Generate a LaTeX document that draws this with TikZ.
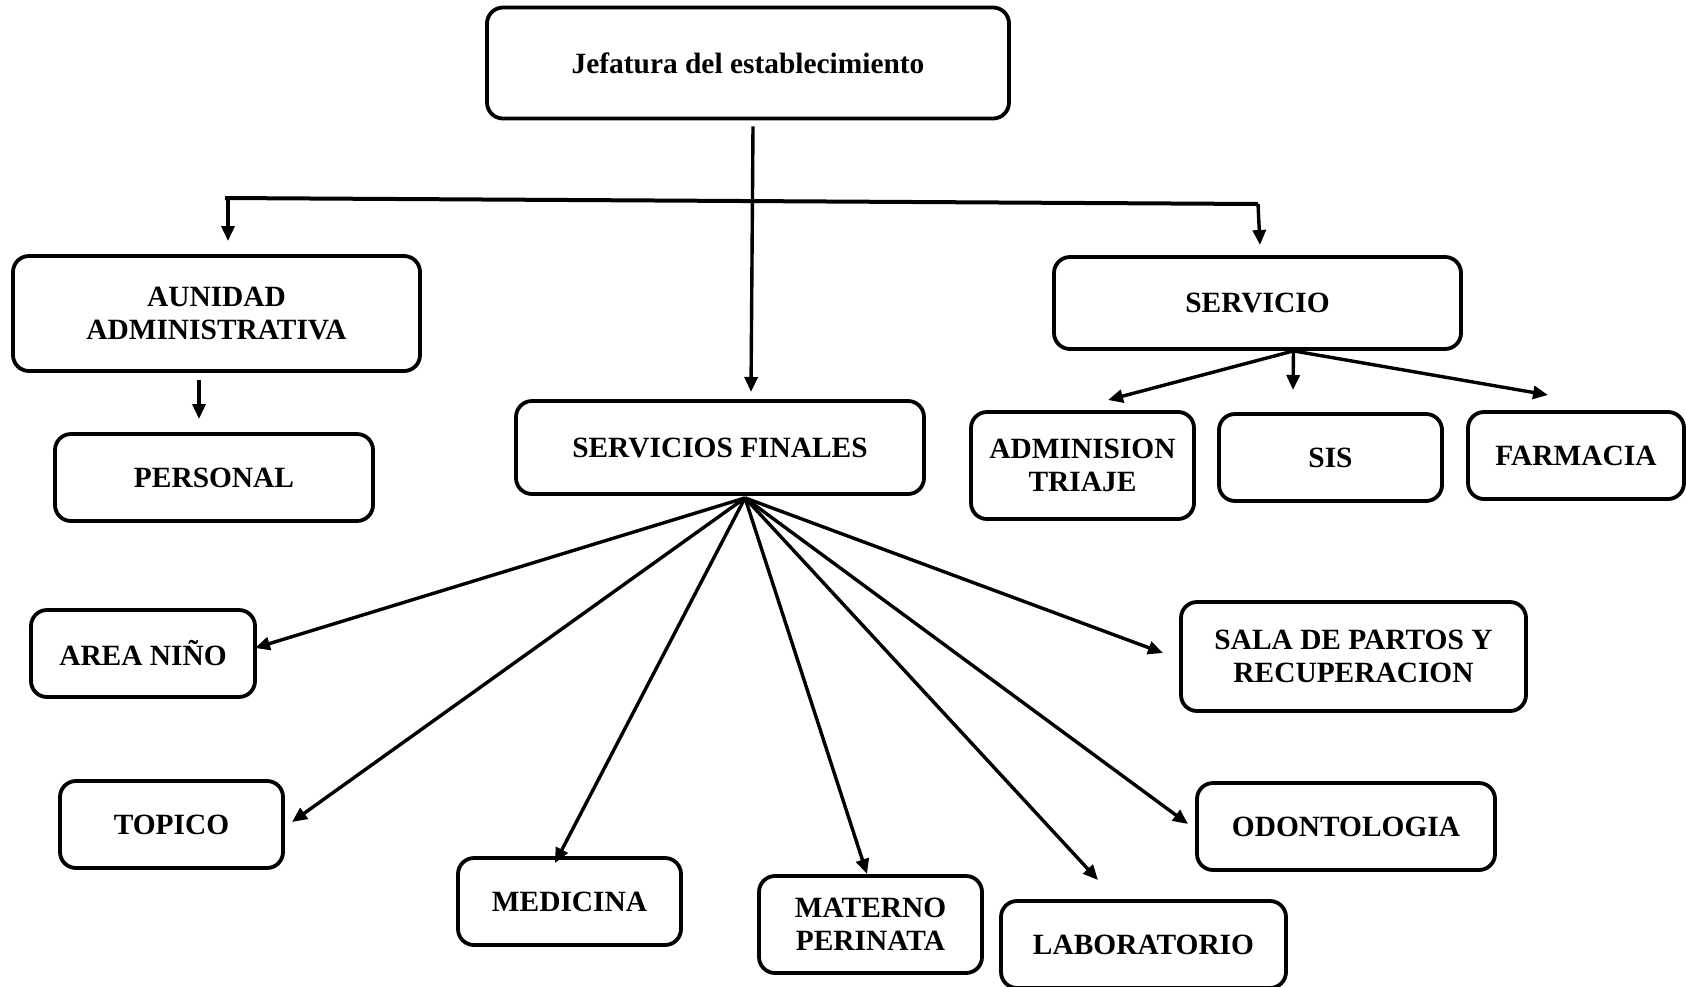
\documentclass[tikz,border=0pt]{standalone}
\usepackage{fontspec}
\setmainfont{Liberation Serif}
\usepackage{tikz}
\usetikzlibrary{arrows.meta}

\begin{document}
\begin{tikzpicture}[x=0.5pt,y=0.5pt,yscale=-1,xscale=1,
  box/.style={draw, line width=1.9pt, rounded corners=8pt, align=center, inner sep=0pt,
    font=\fontsize{14.7}{16.5}\selectfont\bfseries},
  arr/.style={-{Triangle[length=7.5pt,width=6.5pt]}, line width=1.7pt},
  bar/.style={line width=2pt}]
\useasboundingbox (0,0) rectangle (1686,986);

% Boxes
\node[box, minimum width=261pt, minimum height=55.5pt, font=\fontsize{14.7}{16}\selectfont\bfseries] (jef) at (748,63) {Jefatura del establecimiento};
\node[box, minimum width=203.5pt, minimum height=57.5pt] (aun) at (216.5,313.5) {AUNIDAD\\ADMINISTRATIVA};
\node[box, minimum width=203.5pt, minimum height=46pt] (serv) at (1257.5,303) {SERVICIO};
\node[box, minimum width=159pt, minimum height=43.5pt] (pers) at (214,477.5) {PERSONAL};
\node[box, minimum width=204pt, minimum height=46.5pt] (sfin) at (720,447.5) {SERVICIOS FINALES};
\node[box, minimum width=111.5pt, minimum height=53.5pt] (adm) at (1082.5,465.5) {ADMINISION\\TRIAJE};
\node[box, minimum width=111.5pt, minimum height=43.5pt] (sis) at (1330.5,457.5) {SIS};
\node[box, minimum width=108pt, minimum height=43.5pt] (farm) at (1576,455.5) {FARMACIA};
\node[box, minimum width=112pt, minimum height=43.5pt] (area) at (143,653.5) {AREA NIÑO};
\node[box, minimum width=172.5pt, minimum height=54.5pt] (sala) at (1353.5,656.5) {SALA DE PARTOS Y\\RECUPERACION};
\node[box, minimum width=111.5pt, minimum height=43.5pt] (topi) at (171.5,824.5) {TOPICO};
\node[box, minimum width=149pt, minimum height=43.5pt] (odon) at (1346,826.5) {ODONTOLOGIA};
\node[box, minimum width=111.5pt, minimum height=43.5pt] (medi) at (569.5,901.5) {MEDICINA};
\node[box, minimum width=111.5pt, minimum height=48.5pt] (mat) at (870.5,924.5) {MATERNO\\PERINATA};
\node[box, minimum width=142.5pt, minimum height=43.5pt] (lab) at (1143.5,944.5) {LABORATORIO};

% Arrow ends
\coordinate (tsf) at (751,392);
\coordinate (bl) at (225,198);
\coordinate (br) at (1258,204);
\coordinate (taun) at (228,241);
\coordinate (tserv) at (1260,245);
\coordinate (tpers) at (199,419);
\coordinate (tadm) at (1108,400);
\coordinate (tsis) at (1293,390);
\coordinate (tfarm) at (1548,395);
\coordinate (tarea) at (255,648);
\coordinate (ttopi) at (292,822);
\coordinate (tmedi) at (555,863);
\coordinate (tmat) at (867,874);
\coordinate (tlab) at (1098,880);
\coordinate (todon) at (1188,824);
\coordinate (tsala) at (1163,653);

% Top level
\draw[arr] ([xshift=2.5pt,yshift=3pt]jef.south) -- (tsf);
\draw[bar] (bl) -- (br);
\draw[arr] ([xshift=1.5pt]bl) -- (taun);
\draw[arr] (br) -- (tserv);
\draw[arr] ([xshift=-8.75pt,yshift=3.5pt]aun.south) -- (tpers);

% Servicio
\coordinate (sfan) at ([xshift=18pt]serv.south);
\draw[arr] (sfan) -- (tadm);
\draw[arr] (sfan) -- (tsis);
\draw[arr] (sfan) -- (tfarm);

% Servicios finales
\coordinate (ffan) at ([xshift=12.5pt,yshift=1pt]sfin.south);
\draw[arr] (ffan) -- (tarea);
\draw[arr] (ffan) -- (ttopi);
\draw[arr] (ffan) -- (tmedi);
\draw[arr] (ffan) -- (tmat);
\draw[arr] (ffan) -- (tlab);
\draw[arr] (ffan) -- (todon);
\draw[arr] (ffan) -- (tsala);

\end{tikzpicture}
\end{document}
